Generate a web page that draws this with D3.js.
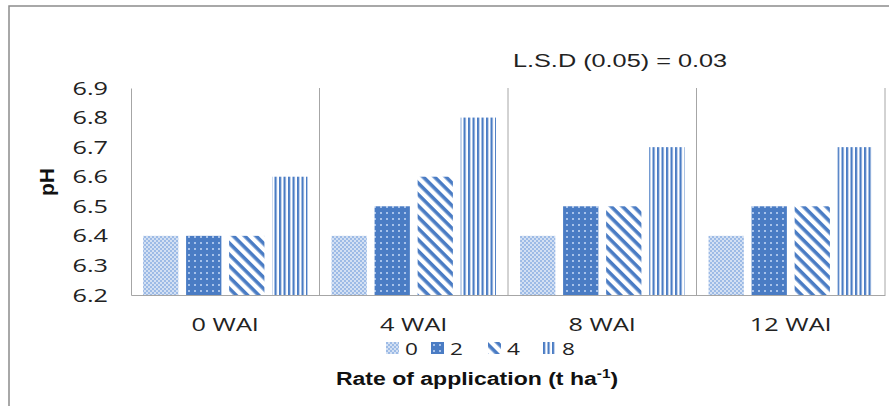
<!DOCTYPE html>
<html>
<head>
<meta charset="utf-8">
<script src="https://cdn.jsdelivr.net/npm/d3@7"></script>
<style>
  body { margin: 0; background: #fff; }
  svg { display: block; }
</style>
</head>
<body>
<div id="chart"></div>
<script>
var chartWidth = 889;
var chartHeight = 406;

var categories = ["0 WAI", "4 WAI", "8 WAI", "12 WAI"];
var rates = ["0", "2", "4", "8"];
var rate0 = [6.4, 6.4, 6.4, 6.4];
var rate2 = [6.4, 6.5, 6.5, 6.5];
var rate4 = [6.4, 6.6, 6.5, 6.5];
var rate8 = [6.6, 6.8, 6.7, 6.7];
var yTicks = [6.2, 6.3, 6.4, 6.5, 6.6, 6.7, 6.8, 6.9];

var seriesValues = [rate0, rate2, rate4, rate8];

var data = [];
categories.forEach(function(c, i) {
    rates.forEach(function(r, j) {
        data.push({ category: c, rate: r, value: seriesValues[j][i] });
    });
});

var plotLeft = 131, plotRight = 885, plotTop = 88, plotBottom = 295;
var stretch = 1.33; // the original picture is a bit wider than tall

var svg = d3.select("#chart")
    .append("svg")
    .attr("width", chartWidth)
    .attr("height", chartHeight);

// fill patterns
var defs = svg.append("defs");
var blue = "#4a7cc4";

var p0 = defs.append("pattern").attr("id", "pat0")
    .attr("patternUnits", "userSpaceOnUse").attr("width", 4).attr("height", 4);
p0.append("rect").attr("width", 4).attr("height", 4).attr("fill", "#d3e0f3");
p0.append("rect").attr("width", 2).attr("height", 2).attr("fill", "#9dbbe6");
p0.append("rect").attr("x", 2).attr("y", 2).attr("width", 2).attr("height", 2).attr("fill", "#9dbbe6");

var p2 = defs.append("pattern").attr("id", "pat2")
    .attr("patternUnits", "userSpaceOnUse").attr("width", 6).attr("height", 6);
p2.append("rect").attr("width", 6).attr("height", 6).attr("fill", blue);
p2.append("rect").attr("x", 2).attr("y", 2).attr("width", 2).attr("height", 2).attr("fill", "#a7c2ea");

var p4 = defs.append("pattern").attr("id", "pat4")
    .attr("patternUnits", "userSpaceOnUse").attr("width", 8).attr("height", 8)
    .attr("patternTransform", "rotate(45)");
p4.append("rect").attr("width", 8).attr("height", 8).attr("fill", "#fff");
p4.append("rect").attr("width", 8).attr("height", 3.6).attr("fill", blue);

var p8 = defs.append("pattern").attr("id", "pat8")
    .attr("patternUnits", "userSpaceOnUse").attr("width", 4.5).attr("height", 4);
p8.append("rect").attr("width", 4.5).attr("height", 4).attr("fill", "#fff");
p8.append("rect").attr("width", 2.2).attr("height", 4).attr("fill", blue);

var fills = { "0": "url(#pat0)", "2": "url(#pat2)", "4": "url(#pat4)", "8": "url(#pat8)" };

// outer frame
svg.append("rect")
    .attr("x", 9).attr("y", 6)
    .attr("width", chartWidth).attr("height", chartHeight)
    .attr("fill", "none")
    .attr("stroke", "#8c8c8c")
    .attr("stroke-width", 1.5);

var xScale = d3.scaleBand().domain(categories).range([plotLeft, plotRight]);
var xInner = d3.scaleBand().domain(rates).range([0, xScale.bandwidth()])
    .paddingInner(0.18).paddingOuter(0.28);
var yScale = d3.scaleLinear().domain([6.2, 6.9]).range([plotBottom, plotTop]);

// category separators
svg.selectAll(".sep")
    .data(categories)
    .enter().append("line")
    .attr("class", "sep")
    .attr("x1", function(d) { return xScale(d) + xScale.bandwidth(); })
    .attr("x2", function(d) { return xScale(d) + xScale.bandwidth(); })
    .attr("y1", plotTop).attr("y2", plotBottom)
    .attr("stroke", "#a6a6a6").attr("stroke-width", 1);

// bars
svg.selectAll(".bar")
    .data(data)
    .enter().append("rect")
    .attr("class", "bar")
    .attr("x", function(d) { return xScale(d.category) + xInner(d.rate); })
    .attr("width", xInner.bandwidth())
    .attr("y", function(d) { return yScale(d.value); })
    .attr("height", function(d) { return plotBottom - yScale(d.value); })
    .attr("fill", function(d) { return fills[d.rate]; });

// y axis
var yAxis = d3.axisLeft(yScale).tickValues(yTicks).tickSize(0).tickPadding(0)
    .tickFormat(d3.format(".1f"));
var yG = svg.append("g")
    .attr("transform", "translate(" + plotLeft + ",0)")
    .call(yAxis);
yG.select(".domain").attr("stroke", "#a6a6a6");
yG.selectAll(".tick text")
    .attr("x", 0)
    .attr("font-family", "Open Sans, sans-serif")
    .attr("font-size", 19)
    .attr("fill", "#222")
    .attr("transform", "translate(-23,0) scale(" + stretch + ",1)");

// x axis
var xAxis = d3.axisBottom(xScale).tickSize(0).tickPadding(0);
var xG = svg.append("g")
    .attr("transform", "translate(0," + plotBottom + ")")
    .call(xAxis);
xG.select(".domain").attr("stroke", "#a6a6a6");
xG.selectAll(".tick text")
    .attr("y", 0).attr("dy", "0.35em")
    .attr("font-family", "Open Sans, sans-serif")
    .attr("font-size", 19)
    .attr("fill", "#222")
    .attr("transform", "translate(0,29) scale(" + stretch + ",1)");

// y title
svg.append("text")
    .attr("transform", "translate(54,182) rotate(-90)")
    .attr("text-anchor", "middle")
    .attr("font-family", "Liberation Sans, Arial, sans-serif")
    .attr("font-weight", "bold")
    .attr("font-size", 21)
    .attr("fill", "#111")
    .text("pH");

// LSD note
svg.append("text")
    .attr("transform", "translate(620,67) scale(" + stretch + ",1)")
    .attr("text-anchor", "middle")
    .attr("font-family", "Liberation Sans, Arial, sans-serif")
    .attr("font-size", 19)
    .attr("fill", "#222")
    .text("L.S.D (0.05) = 0.03");

// legend
var legendX = [386, 431, 488, 543];
var legend = svg.selectAll(".legend")
    .data(rates)
    .enter().append("g")
    .attr("class", "legend")
    .attr("transform", function(d, i) { return "translate(" + legendX[i] + ",342)"; });
legend.append("rect")
    .attr("width", 13).attr("height", 12)
    .attr("fill", function(d) { return fills[d]; });
legend.append("text")
    .attr("transform", "translate(19,13) scale(" + stretch + ",1)")
    .attr("font-family", "Open Sans, sans-serif")
    .attr("font-size", 17)
    .attr("fill", "#222")
    .text(function(d) { return d; });

// x title
var xt = svg.append("text")
    .attr("transform", "translate(477,385) scale(1.28,1)")
    .attr("text-anchor", "middle")
    .attr("font-family", "Liberation Sans, Arial, sans-serif")
    .attr("font-weight", "bold")
    .attr("font-size", 18)
    .attr("fill", "#111");
xt.append("tspan").text("Rate of application (t ha");
xt.append("tspan").attr("dy", -7).attr("font-size", 12).text("-1");
xt.append("tspan").attr("dy", 7).text(")");
</script>
</body>
</html>
